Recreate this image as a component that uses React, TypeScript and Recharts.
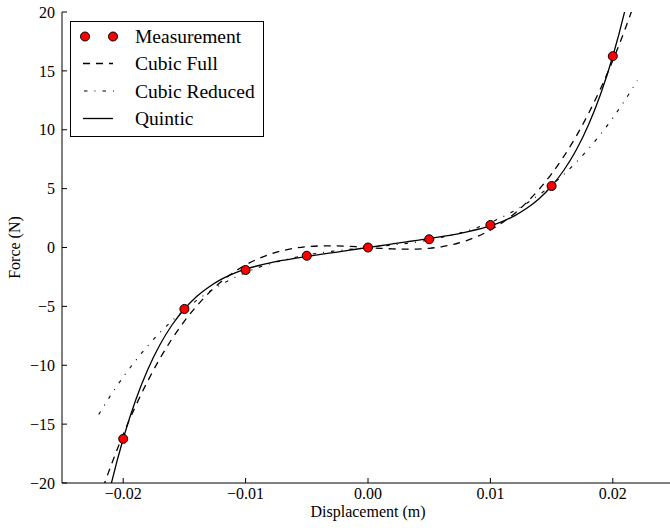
import * as React from "react";
import { ComposedChart, Legend, Line, Scatter, XAxis, YAxis } from "recharts";

// curve samples, x in metres
const xValues = [
  -0.022, -0.021, -0.02, -0.019, -0.018, -0.017, -0.016, -0.015, -0.014, -0.013, -0.012,
  -0.011, -0.01, -0.009, -0.008, -0.007, -0.006, -0.005, -0.004, -0.003, -0.002, -0.001,
  0,
  0.001, 0.002, 0.003, 0.004, 0.005, 0.006, 0.007, 0.008, 0.009, 0.01, 0.011,
  0.012, 0.013, 0.014, 0.015, 0.016, 0.017, 0.018, 0.019, 0.02, 0.021, 0.022,
];
const cubicFull = [
  -21.44, -18.53, -15.88, -13.49, -11.35, -9.43, -7.74, -6.26, -4.97, -3.86, -2.91,
  -2.13, -1.48, -0.97, -0.57, -0.27, -0.06, 0.07, 0.13, 0.14, 0.12, 0.07,
  0,
  -0.07, -0.12, -0.14, -0.13, -0.07, 0.06, 0.27, 0.57, 0.97, 1.48, 2.13,
  2.91, 3.86, 4.97, 6.26, 7.74, 9.43, 11.35, 13.49, 15.88, 18.53, 21.44,
];
const cubicReduced = [
  -14.18, -12.52, -11.0, -9.62, -8.36, -7.23, -6.21, -5.3, -4.49, -3.78, -3.15,
  -2.6, -2.13, -1.72, -1.38, -1.09, -0.85, -0.64, -0.47, -0.33, -0.21, -0.1,
  0,
  0.1, 0.21, 0.33, 0.47, 0.64, 0.85, 1.09, 1.38, 1.72, 2.13, 2.6,
  3.15, 3.78, 4.49, 5.3, 6.21, 7.23, 8.36, 9.62, 11.0, 12.52, 14.18,
];
const quintic = [
  -24.91, -20.17, -16.24, -13.01, -10.38, -8.26, -6.56, -5.22, -4.16, -3.35, -2.71,
  -2.22, -1.84, -1.55, -1.31, -1.1, -0.93, -0.77, -0.61, -0.46, -0.31, -0.15,
  0,
  0.15, 0.31, 0.46, 0.61, 0.77, 0.93, 1.1, 1.31, 1.55, 1.84, 2.22,
  2.71, 3.35, 4.16, 5.22, 6.56, 8.26, 10.38, 13.01, 16.24, 20.17, 24.91,
];

const measX = [-0.02, -0.015, -0.01, -0.005, 0, 0.005, 0.01, 0.015, 0.02];
const measY = [-16.25, -5.22, -1.91, -0.7, 0, 0.7, 1.91, 5.22, 16.25];

const xTicks = [-0.02, -0.01, 0, 0.01, 0.02];
const yTicks = [-20, -15, -10, -5, 0, 5, 10, 15, 20];

const curveRows = xValues.map((x, i) => ({
  x,
  full: cubicFull[i],
  reduced: cubicReduced[i],
  quintic: quintic[i],
}));
const measRows = measX.map((x, i) => ({ x, y: measY[i] }));

const FONT = "'Liberation Serif', 'DejaVu Serif', 'Times New Roman', serif";
const tickStyle = { fill: "#000", fontSize: 16, fontFamily: FONT };
const minus = (s: string) => s.replace("-", "\u2212");

const DASHED = "7 6";
const DASHDOT = "3.5 7 1 7";

function LegendBox() {
  const rowY = [15.5, 42.5, 70, 97.5];
  const names = ["Measurement", "Cubic Full", "Cubic Reduced", "Quintic"];
  return (
    <svg width={195} height={117} style={{ display: "block" }}>
      <rect x={0.5} y={0.5} width={193} height={115} fill="#fff" stroke="#000" strokeWidth={1} />
      <circle cx={15} cy={rowY[0]} r={4.5} fill="#ff0000" stroke="#000" />
      <circle cx={43} cy={rowY[0]} r={4.5} fill="#ff0000" stroke="#000" />
      <line x1={13} x2={43} y1={rowY[1]} y2={rowY[1]} stroke="#000" strokeWidth={1.3} strokeDasharray={DASHED} />
      <line x1={14} x2={44} y1={rowY[2]} y2={rowY[2]} stroke="#000" strokeWidth={1.1} strokeDasharray={DASHDOT} />
      <line x1={13} x2={43} y1={rowY[3]} y2={rowY[3]} stroke="#000" strokeWidth={1.3} />
      {names.map((n, i) => (
        <text key={n} x={65} y={rowY[i] + 6.5} fontSize={19.5} fontFamily={FONT} fill="#000">
          {n}
        </text>
      ))}
    </svg>
  );
}

function YLabel(props: any) {
  const vb = props.viewBox || { x: 0, y: 12, width: 62, height: 471 };
  const x = vb.x + 20;
  const y = vb.y + vb.height / 2;
  return (
    <text x={x} y={y} transform={`rotate(-90 ${x} ${y})`} textAnchor="middle" fontSize={16} fontFamily={FONT} fill="#000">
      Force (N)
    </text>
  );
}

export default function App() {
  return (
    <div
      style={{
        position: "absolute",
        left: 0,
        top: 0,
        width: 670,
        height: 530,
        overflow: "hidden",
        background: "#fff",
        fontFamily: FONT,
      }}
    >
      <ComposedChart
        width={690}
        height={530}
        data={curveRows}
        margin={{ top: 12, right: 16, left: 0, bottom: 0 }}
        style={{ fontFamily: FONT }}
      >
        <XAxis
          xAxisId="main"
          dataKey="x"
          type="number"
          domain={[-0.025, 0.025]}
          allowDataOverflow
          ticks={xTicks}
          interval={0}
          height={47}
          tickSize={-5}
          tickMargin={10}
          tick={tickStyle}
          tickLine={{ stroke: "#000" }}
          axisLine={{ stroke: "#000" }}
          tickFormatter={(v: number) => minus(v.toFixed(2))}
          label={{ value: "Displacement (m)", position: "insideBottom", offset: 13, fill: "#000", fontSize: 16, fontFamily: FONT }}
        />
        <XAxis
          xAxisId="top"
          orientation="top"
          dataKey="x"
          type="number"
          domain={[-0.025, 0.025]}
          allowDataOverflow
          ticks={xTicks}
          interval={0}
          height={0}
          tickSize={-5}
          tick={false}
          tickLine={{ stroke: "#000" }}
          axisLine={{ stroke: "#000" }}
        />
        <YAxis
          yAxisId="main"
          type="number"
          domain={[-20, 20]}
          allowDataOverflow
          ticks={yTicks}
          interval={0}
          width={62}
          tickSize={-5}
          tickMargin={12}
          tick={tickStyle}
          tickLine={{ stroke: "#000" }}
          axisLine={{ stroke: "#000" }}
          tickFormatter={(v: number) => minus(String(v))}
          label={<YLabel />}
        />
        <YAxis
          yAxisId="right"
          orientation="right"
          type="number"
          domain={[-20, 20]}
          allowDataOverflow
          ticks={yTicks}
          interval={0}
          width={0}
          tickSize={-5}
          tick={false}
          tickLine={{ stroke: "#000" }}
          axisLine={{ stroke: "#000" }}
        />
        <Legend
          layout="horizontal"
          verticalAlign="middle"
          align="center"
          wrapperStyle={{ left: 70, top: 21, width: 195, height: 117 }}
          content={() => <LegendBox />}
        />
        <Line
          xAxisId="main"
          yAxisId="main"
          name="Cubic Full"
          type="monotone"
          dataKey="full"
          stroke="#000"
          strokeWidth={1.3}
          strokeDasharray={DASHED}
          dot={false}
          activeDot={false}
          isAnimationActive={false}
        />
        <Line
          xAxisId="main"
          yAxisId="main"
          name="Cubic Reduced"
          type="monotone"
          dataKey="reduced"
          stroke="#000"
          strokeWidth={1.1}
          strokeDasharray={DASHDOT}
          dot={false}
          activeDot={false}
          isAnimationActive={false}
        />
        <Line
          xAxisId="main"
          yAxisId="main"
          name="Quintic"
          type="monotone"
          dataKey="quintic"
          stroke="#000"
          strokeWidth={1.3}
          dot={false}
          activeDot={false}
          isAnimationActive={false}
        />
        <Scatter
          xAxisId="main"
          yAxisId="main"
          name="Measurement"
          data={measRows}
          dataKey="y"
          fill="#ff0000"
          stroke="#000"
          strokeWidth={1}
          isAnimationActive={false}
        />
      </ComposedChart>
    </div>
  );
}
